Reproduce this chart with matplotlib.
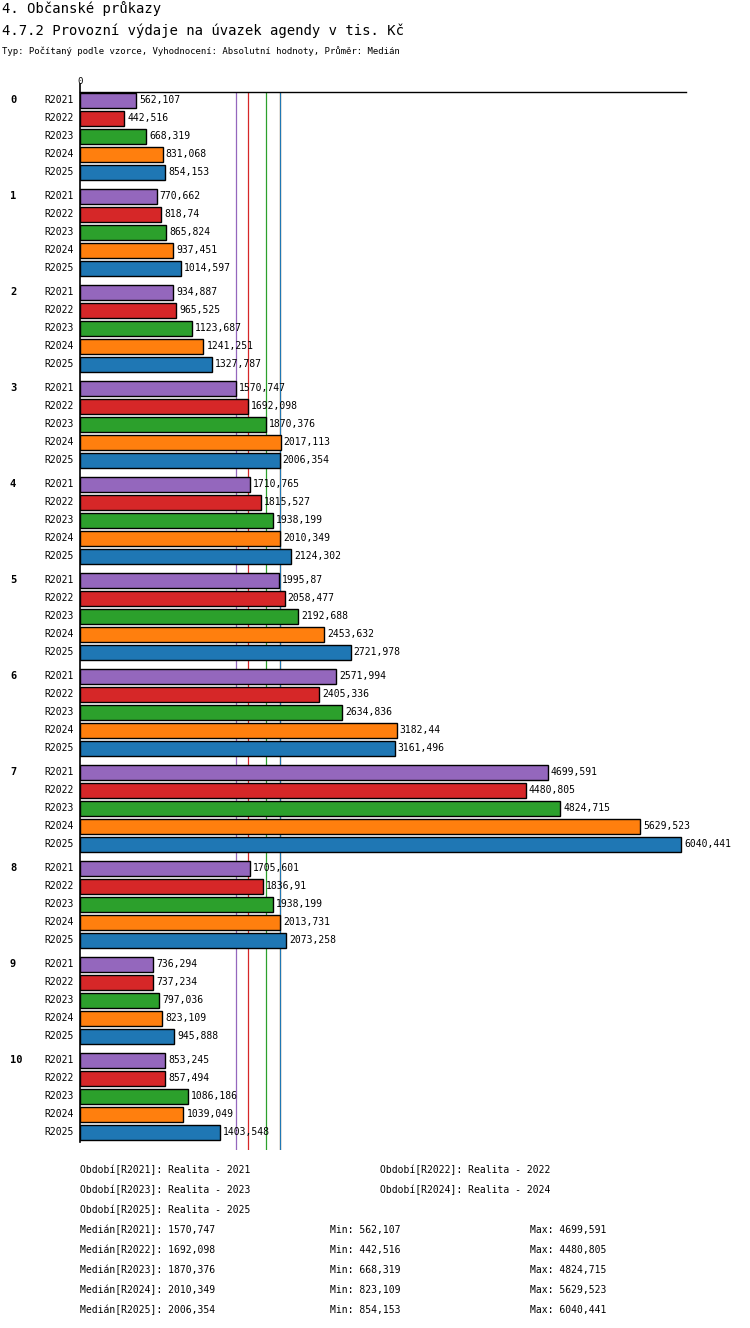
import matplotlib
matplotlib.use("Agg")
import matplotlib.pyplot as plt

SERIES = ["R2021", "R2022", "R2023", "R2024", "R2025"]
COLORS = ["#9467bd", "#d62728", "#2ca02c", "#ff7f0e", "#1f77b4"]
GROUPS = [str(i) for i in range(11)]
VALUES = [
    [562.107, 442.516, 668.319, 831.068, 854.153],
    [770.662, 818.74, 865.824, 937.451, 1014.597],
    [934.887, 965.525, 1123.687, 1241.251, 1327.787],
    [1570.747, 1692.098, 1870.376, 2017.113, 2006.354],
    [1710.765, 1815.527, 1938.199, 2010.349, 2124.302],
    [1995.87, 2058.477, 2192.688, 2453.632, 2721.978],
    [2571.994, 2405.336, 2634.836, 3182.44, 3161.496],
    [4699.591, 4480.805, 4824.715, 5629.523, 6040.441],
    [1705.601, 1836.91, 1938.199, 2013.731, 2073.258],
    [736.294, 737.234, 797.036, 823.109, 945.888],
    [853.245, 857.494, 1086.186, 1039.049, 1403.548],
]
MEDIANS = [1570.747, 1692.098, 1870.376, 2010.349, 2006.354]
MINS = [562.107, 442.516, 668.319, 823.109, 854.153]
MAXS = [4699.591, 4480.805, 4824.715, 5629.523, 6040.441]

def fmt(v):
    s = ("%.3f" % v).rstrip("0").rstrip(".")
    return s.replace(".", ",")

W, H = 750, 1328
fig = plt.figure(figsize=(W / 100, H / 100), dpi=100)
plt.rcParams["font.family"] = "DejaVu Sans Mono"

x0, x1, ytop, ybot = 80, 686, 92, 1150
ax = fig.add_axes([x0 / W, 1 - ybot / H, (x1 - x0) / W, (ybot - ytop) / H])
ax.set_xlim(0, 6040.441 * (x1 - x0) / 601)
ax.set_ylim(ybot, ytop)
ax.axis("off")
ax.plot([0, ax.get_xlim()[1]], [ytop, ytop], color="black", lw=1, clip_on=False)
ax.plot([0, 0], [ytop - 8, 1142], color="black", lw=1.2, clip_on=False)
ax.text(0, ytop - 6, "0", ha="center", va="bottom", fontsize=6.5)

for m, c in zip(MEDIANS, COLORS):
    ax.plot([m, m], [ytop, ybot], color=c, lw=0.9, zorder=1)

for g, row in enumerate(VALUES):
    yg = 100 + g * 96
    fig.text(10 / W, 1 - yg / H, GROUPS[g], fontsize=7.5, fontweight="bold", va="center")
    for k, v in enumerate(row):
        y = yg + k * 18
        ax.barh(y, v, height=15, color=COLORS[k], edgecolor="black", lw=1, zorder=2)
        ax.text(v + 30, y, fmt(v), va="center", fontsize=7)
        fig.text(44 / W, 1 - y / H, SERIES[k], fontsize=7, va="center")

fig.text(2 / W, 1 - 9 / H, "4. Občanské průkazy", fontsize=10, va="center")
fig.text(2 / W, 1 - 31 / H, "4.7.2 Provozní výdaje na úvazek agendy v tis. Kč", fontsize=10, va="center")
fig.text(2 / W, 1 - 51 / H, "Typ: Počítaný podle vzorce, Vyhodnocení: Absolutní hodnoty, Průměr: Medián",
         fontsize=6.5, va="center")

pos = [(80, 1170), (380, 1170), (80, 1190), (380, 1190), (80, 1210)]
for (px, py), s in zip(pos, SERIES):
    fig.text(px / W, 1 - py / H, "Období[%s]: Realita - %s" % (s, s[1:]), fontsize=7, va="center")
for i, s in enumerate(SERIES):
    py = 1230 + i * 20
    fig.text(80 / W, 1 - py / H, "Medián[%s]: %s" % (s, fmt(MEDIANS[i])), fontsize=7, va="center")
    fig.text(330 / W, 1 - py / H, "Min: %s" % fmt(MINS[i]), fontsize=7, va="center")
    fig.text(530 / W, 1 - py / H, "Max: %s" % fmt(MAXS[i]), fontsize=7, va="center")

fig.savefig("out.png", dpi=100, facecolor="white")
